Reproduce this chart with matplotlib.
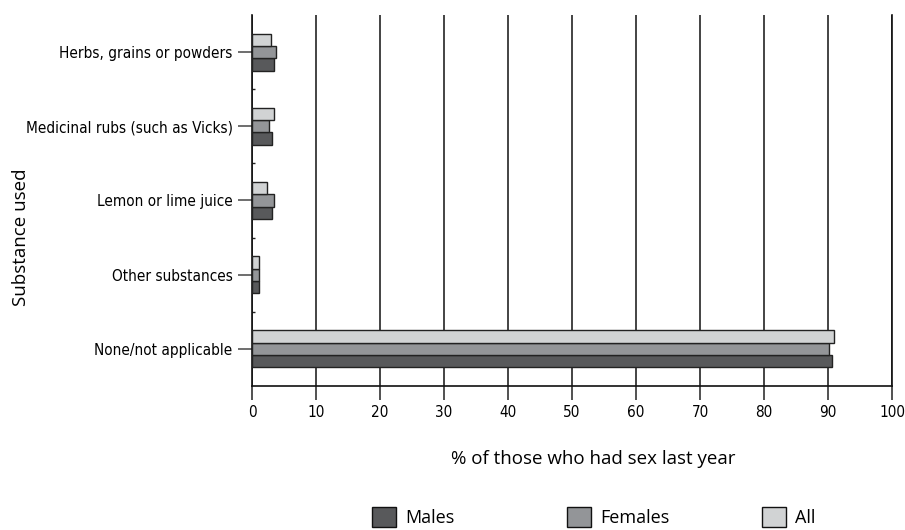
import matplotlib
matplotlib.use("Agg")
import matplotlib.pyplot as plt
import numpy as np
from matplotlib.patches import Patch
from matplotlib.font_manager import FontProperties

categories = ["None/not applicable", "Other substances", "Lemon or lime juice",
              "Medicinal rubs (such as Vicks)", "Herbs, grains or powders"]
males = [90.6, 1.15, 3.1, 3.1, 3.5]
females = [90.2, 1.15, 3.5, 2.7, 3.8]
all_ = [91.0, 1.15, 2.35, 3.45, 3.0]
xticks = [0, 10, 20, 30, 40, 50, 60, 70, 80, 90, 100]

c_m, c_f, c_a = "#58595b", "#939598", "#d1d3d4"
narrow = FontProperties(family="DejaVu Sans", stretch="condensed", size=11)
regular = ["Open Sans", "DejaVu Sans"]

fig = plt.figure(figsize=(9.05, 5.3), dpi=100)
ax = fig.add_axes([0.2785, 0.2717, 0.7072, 0.7])

y = np.arange(len(categories))
h = 0.167
ax.barh(y - h, males, height=h, color=c_m, edgecolor="#222222", linewidth=1.0, zorder=3)
ax.barh(y, females, height=h, color=c_f, edgecolor="#222222", linewidth=1.0, zorder=3)
ax.barh(y + h, all_, height=h, color=c_a, edgecolor="#222222", linewidth=1.0, zorder=3)

ax.set_xlim(0, 100)
ax.set_ylim(-0.5, 4.5)
ax.set_xticks(xticks)
ax.set_yticks(y)
ax.set_yticklabels(categories, fontproperties=narrow)
ax.set_xticklabels([str(t) for t in xticks], fontproperties=narrow)
ax.set_yticks(np.arange(len(categories) - 1) + 0.5, minor=True)
ax.tick_params(axis="y", which="minor", direction="in", length=2, width=1, color="#222222")
ax.tick_params(axis="both", which="major", length=10, width=1.2, color="#333333", pad=4)
ax.tick_params(axis="y", which="major", color="#555555")

ax.grid(axis="x", color="#111111", linewidth=1.1, zorder=0)
ax.spines["top"].set_visible(False)
for s in ["left", "bottom", "right"]:
    ax.spines[s].set_color("#111111")
    ax.spines[s].set_linewidth(1.2)

ax.set_ylabel("Substance used", family=regular, fontsize=13.5)
ax.yaxis.set_label_coords(-0.347, 0.40)
ax.set_xlabel("% of those who had sex last year", family=regular, fontsize=13.5)
ax.xaxis.set_label_coords(0.533, -0.172)

# legend: one entry per box so the spacing matches the original
entries = [(c_m, "Males", 372), (c_f, "Females", 567), (c_a, "All", 762)]
for col, lab, xpix in entries:
    fig.legend(handles=[Patch(facecolor=col, edgecolor="#111111", label=lab)],
               loc="center left", bbox_to_anchor=(xpix / 905, 0.024),
               frameon=False, prop={"family": regular, "size": 13},
               handlelength=1.35, handleheight=1.35, handletextpad=0.5,
               borderpad=0, borderaxespad=0)

fig.savefig("out.png", dpi=100)
